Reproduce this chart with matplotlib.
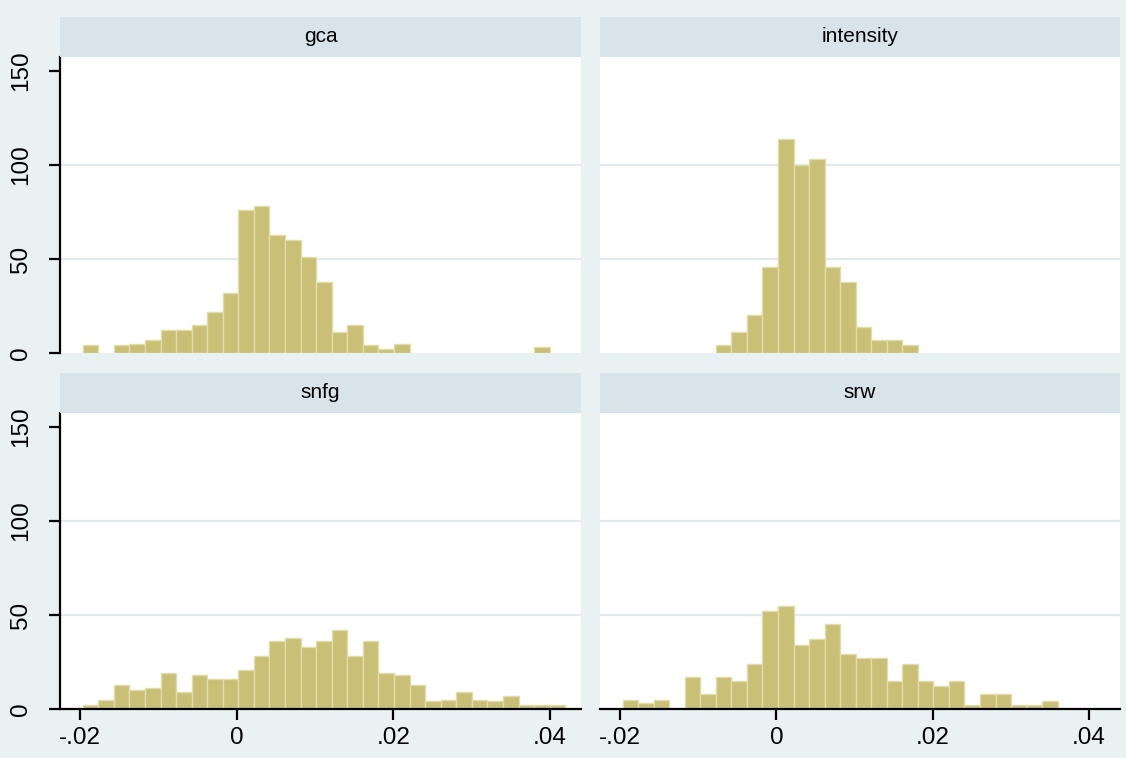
import numpy as np
import matplotlib.pyplot as plt

# histogram of four growth measures, common bins for all panels
bin_start = -0.0197
bin_width = 0.00199
n_bins = 31

panels = ['gca', 'intensity', 'snfg', 'srw']
gca = [4, 0, 4, 5, 7, 12, 12, 15, 22, 32, 76, 78, 63, 60, 51, 38, 11, 15, 4, 2,
       5, 0, 0, 0, 0, 0, 0, 0, 0, 3, 0]
intensity = [0, 0, 0, 0, 0, 0, 4, 11, 20, 46, 114, 100, 103, 46, 38, 14, 7, 7, 4, 0,
             0, 0, 0, 0, 0, 0, 0, 0, 0, 0, 0]
snfg = [2, 5, 13, 10, 11, 19, 9, 18, 16, 16, 21, 28, 36, 38, 33, 36, 42, 28, 36, 19,
        18, 13, 4, 5, 9, 5, 4, 7, 2, 2, 2]
srw = [5, 3, 5, 0, 17, 8, 17, 15, 24, 52, 55, 34, 37, 45, 29, 27, 27, 15, 24, 15,
       12, 15, 2, 8, 8, 2, 2, 4, 0, 0, 0]
counts = [gca, intensity, snfg, srw]

x_ticks = [-0.02, 0, 0.02, 0.04]
x_labels = ['-.02', '0', '.02', '.04']
y_ticks = [0, 50, 100, 150]
y_labels = ['0', '50', '100', '150']

bg = '#EAF1F3'
strip = '#D9E4EA'
bar_fill = '#C9BF77'
bar_edge = '#E2DCAA'
grid = '#E3EAED'

plt.rcParams['font.family'] = ['Liberation Sans', 'DejaVu Sans']

fig = plt.figure(figsize=(11.26, 7.58), dpi=100, facecolor=bg)
W, H = 1126, 758

# pixel boxes: (left, right, top, bottom)
cols = [(60, 581), (600, 1120)]
rows = [(57, 353), (413, 709)]

edges = bin_start + bin_width * np.arange(n_bins + 1)

for i, name in enumerate(panels):
    r, c = divmod(i, 2)
    l, rr = cols[c]
    t, b = rows[r]
    ax = fig.add_axes([l / W, 1 - b / H, (rr - l) / W, (b - t) / H])
    ax.set_facecolor('white')
    ax.set_xlim(-0.0226, 0.0440)
    ax.set_ylim(0, 157.5)
    for v in [50, 100]:
        ax.axhline(v, color=grid, lw=1.6, zorder=0)
    vals = np.array(counts[i])
    mask = vals > 0
    ax.bar(edges[:-1][mask], vals[mask], width=bin_width, align='edge',
           color=bar_fill, edgecolor=bar_edge, linewidth=1.0, zorder=2)
    for s in ['top', 'right']:
        ax.spines[s].set_visible(False)
    ax.spines['left'].set_linewidth(1.6)
    ax.spines['bottom'].set_linewidth(1.6)
    if c == 0:
        ax.set_yticks(y_ticks)
        ax.set_yticklabels(y_labels, rotation=90, va='center', fontsize=17.5)
        ax.tick_params(axis='y', length=8, width=1.6, pad=12)
    else:
        ax.spines['left'].set_visible(False)
        ax.set_yticks([])
    if r == 1:
        ax.set_xticks(x_ticks)
        ax.set_xticklabels(x_labels, fontsize=17.5)
        ax.tick_params(axis='x', length=8, width=1.6, pad=5)
    else:
        ax.spines['bottom'].set_visible(False)
        ax.set_xticks([])

    # header strip
    hs = fig.add_axes([l / W, 1 - t / H, (rr - l) / W, 40 / H])
    hs.set_facecolor(strip)
    hs.set_xticks([])
    hs.set_yticks([])
    for s in hs.spines.values():
        s.set_visible(False)
    hs.text(0.5, 0.5, name, ha='center', va='center', fontsize=15,
            transform=hs.transAxes)

fig.savefig('out.png', dpi=100, facecolor=bg)
